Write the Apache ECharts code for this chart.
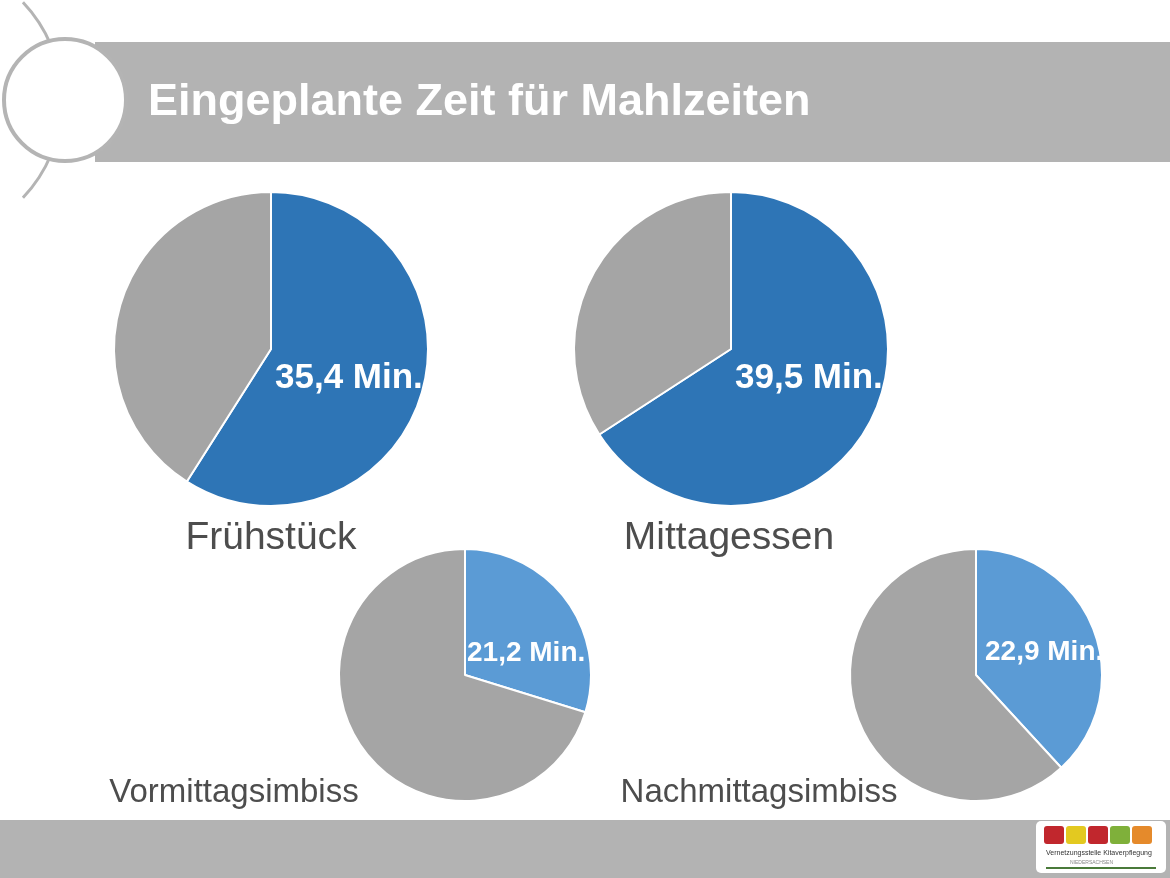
<!DOCTYPE html>
<html>
<head>
<meta charset="utf-8">
<script src="https://cdn.jsdelivr.net/npm/echarts@6/dist/echarts.min.js"></script>
<style>
html, body { margin: 0; padding: 0; background: #fff; }
#main { width: 1170px; height: 878px; }
</style>
</head>
<body>
<div id="main"></div>
<script>
var titleText = 'Eingeplante Zeit für Mahlzeiten';
var categories = ['Frühstück', 'Mittagessen', 'Vormittagsimbiss', 'Nachmittagsimbiss'];
var minutes = [35.4, 39.5, 21.2, 22.9];      // geplante Minuten (blau)
var rest = [24.6, 20.5, 50.0, 37.1];         // Rest (grau)
var blues = ['#2E75B6', '#2E75B6', '#5B9BD5', '#5B9BD5'];

// Lage der Kreise
var centers = [[271, 349], [731, 349], [465, 675], [976, 675]];
var radii = [157, 157, 126, 126];
var valueFont = [35, 35, 28, 28];
var valueOffset = [[4, 29], [4, 29], [2, -22], [9, -23]];
var nameFont = [39, 39, 33, 33];
var namePos = [[271, 538], [729, 538], [234, 793], [759, 793]];

var myChart = echarts.init(document.getElementById('main'), null, { renderer: 'canvas' });
var FONT = 'Arial, "Liberation Sans", sans-serif';

function fmt(v) {
    return v.toFixed(1).replace('.', ',') + ' Min.';
}

var series = [];
var graphics = [
    // großer Bogen links
    {
        type: 'arc', z: 1,
        shape: { cx: -80, cy: 100, r: 142, startAngle: -0.76, endAngle: 0.76 },
        style: { stroke: '#B4B4B4', lineWidth: 3, fill: null }
    },
    // Kopfband
    { type: 'rect', z: 2, shape: { x: 95, y: 42, width: 1080, height: 120 }, style: { fill: '#B3B3B3' } },
    // Kreis
    {
        type: 'circle', z: 3,
        shape: { cx: 65, cy: 100, r: 61 },
        style: { fill: '#fff', stroke: '#B4B4B4', lineWidth: 4 }
    },
    {
        type: 'text', z: 4, x: 148, y: 103,
        style: { text: titleText, fill: '#fff', font: 'bold 45px ' + FONT, verticalAlign: 'middle' }
    },
    // Fußband
    { type: 'rect', z: 2, shape: { x: 0, y: 820, width: 1170, height: 58 }, style: { fill: '#B3B3B3' } },
    // Logo
    { type: 'rect', z: 3, shape: { x: 1036, y: 821, width: 130, height: 52, r: 5 }, style: { fill: '#fff' } },
    { type: 'rect', z: 4, shape: { x: 1044, y: 826, width: 20, height: 18, r: 3 }, style: { fill: '#C1272D' } },
    { type: 'rect', z: 4, shape: { x: 1066, y: 826, width: 20, height: 18, r: 3 }, style: { fill: '#E3C920' } },
    { type: 'rect', z: 4, shape: { x: 1088, y: 826, width: 20, height: 18, r: 3 }, style: { fill: '#C1272D' } },
    { type: 'rect', z: 4, shape: { x: 1110, y: 826, width: 20, height: 18, r: 3 }, style: { fill: '#7FB03A' } },
    { type: 'rect', z: 4, shape: { x: 1132, y: 826, width: 20, height: 18, r: 3 }, style: { fill: '#E58A2B' } },
    {
        type: 'text', z: 4, left: 1046, top: 850,
        style: { text: 'Vernetzungsstelle Kitaverpflegung', fill: '#333', font: '7px ' + FONT }
    },
    {
        type: 'text', z: 4, left: 1070, top: 860,
        style: { text: 'NIEDERSACHSEN', fill: '#888', font: '5px ' + FONT }
    },
    { type: 'rect', z: 4, shape: { x: 1046, y: 867, width: 110, height: 2 }, style: { fill: '#4A7A3A' } }
];

for (var i = 0; i < categories.length; i++) {
    series.push({
        type: 'pie',
        name: categories[i],
        center: centers[i],
        radius: [0, radii[i]],
        startAngle: 90,
        clockwise: true,
        silent: true,
        label: { show: false },
        labelLine: { show: false },
        itemStyle: { borderColor: '#fff', borderWidth: 2 },
        data: [
            { value: minutes[i], name: 'Min.', itemStyle: { color: blues[i] } },
            { value: rest[i], name: 'Rest', itemStyle: { color: '#A5A5A5' } }
        ]
    });
    graphics.push({
        type: 'text', z: 10,
        x: centers[i][0] + valueOffset[i][0], y: centers[i][1] + valueOffset[i][1],
        style: {
            text: fmt(minutes[i]), fill: '#fff',
            font: 'bold ' + valueFont[i] + 'px ' + FONT,
            align: 'left', verticalAlign: 'middle'
        }
    });
    graphics.push({
        type: 'text', z: 10,
        x: namePos[i][0], y: namePos[i][1],
        style: {
            text: categories[i], fill: '#4D4D4D',
            font: nameFont[i] + 'px ' + FONT,
            align: 'center', verticalAlign: 'middle'
        }
    });
}

var option = {
    backgroundColor: '#fff',
    animation: false,
    series: series,
    graphic: graphics
};
myChart.setOption(option);
</script>
</body>
</html>
